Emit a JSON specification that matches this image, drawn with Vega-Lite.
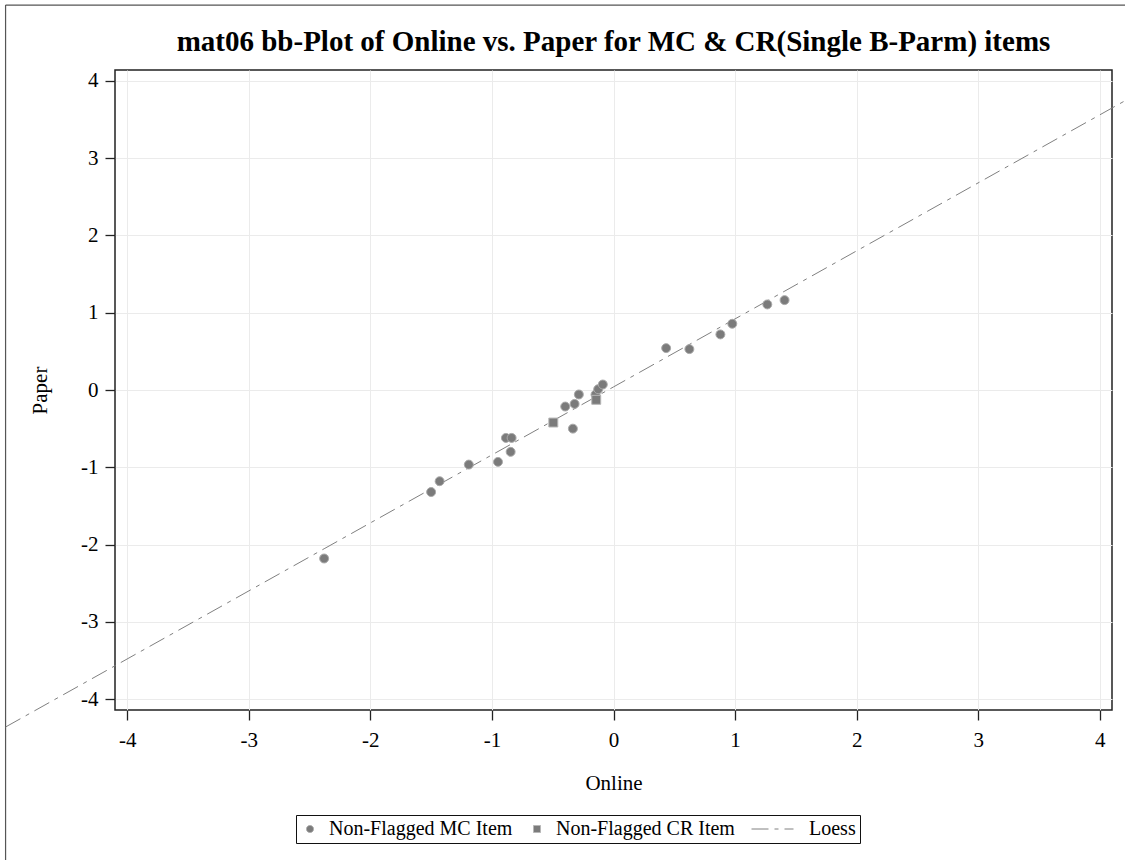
{
  "$schema": "https://vega.github.io/schema/vega-lite/v6.json",
  "autosize": {"type": "none"},
  "width": 997,
  "height": 640,
  "padding": {"left": 115, "top": 70, "right": 13, "bottom": 150},
  "background": "white",
  "title": {
    "text": "mat06 bb-Plot of Online vs. Paper for MC & CR(Single B-Parm) items",
    "font": "Liberation Serif",
    "fontSize": 29,
    "fontWeight": "bold",
    "color": "black",
    "anchor": "middle",
    "frame": "group",
    "baseline": "alphabetic",
    "offset": 0,
    "dy": 76
  },
  "datasets": {
    "items": [
      {"online": -2.38, "paper": -2.18, "series": "Non-Flagged MC Item"},
      {"online": -1.50, "paper": -1.32, "series": "Non-Flagged MC Item"},
      {"online": -1.43, "paper": -1.18, "series": "Non-Flagged MC Item"},
      {"online": -1.19, "paper": -0.965, "series": "Non-Flagged MC Item"},
      {"online": -0.95, "paper": -0.93, "series": "Non-Flagged MC Item"},
      {"online": -0.885, "paper": -0.62, "series": "Non-Flagged MC Item"},
      {"online": -0.838, "paper": -0.62, "series": "Non-Flagged MC Item"},
      {"online": -0.846, "paper": -0.80, "series": "Non-Flagged MC Item"},
      {"online": -0.397, "paper": -0.214, "series": "Non-Flagged MC Item"},
      {"online": -0.334, "paper": -0.50, "series": "Non-Flagged MC Item"},
      {"online": -0.320, "paper": -0.18, "series": "Non-Flagged MC Item"},
      {"online": -0.285, "paper": -0.058, "series": "Non-Flagged MC Item"},
      {"online": -0.148, "paper": -0.06, "series": "Non-Flagged MC Item"},
      {"online": -0.126, "paper": 0.01, "series": "Non-Flagged MC Item"},
      {"online": -0.088, "paper": 0.071, "series": "Non-Flagged MC Item"},
      {"online": 0.433, "paper": 0.542, "series": "Non-Flagged MC Item"},
      {"online": 0.624, "paper": 0.529, "series": "Non-Flagged MC Item"},
      {"online": 0.879, "paper": 0.719, "series": "Non-Flagged MC Item"},
      {"online": 0.977, "paper": 0.857, "series": "Non-Flagged MC Item"},
      {"online": 1.265, "paper": 1.107, "series": "Non-Flagged MC Item"},
      {"online": 1.407, "paper": 1.163, "series": "Non-Flagged MC Item"},
      {"online": -0.495, "paper": -0.421, "series": "Non-Flagged CR Item"},
      {"online": -0.142, "paper": -0.127, "series": "Non-Flagged CR Item"}
    ],
    "loess": [
      {"online": -5.0, "paper": -4.36, "series": "Loess"},
      {"online": -2.38, "paper": -2.054, "series": "Loess"},
      {"online": 0.0, "paper": 0.04, "series": "Loess"},
      {"online": 1.41, "paper": 1.281, "series": "Loess"},
      {"online": 4.35, "paper": 3.868, "series": "Loess"}
    ],
    "frame": [
      {"edge": "left", "online": -5.0, "online2": -5.0, "paper": 4.98, "paper2": -6.2},
      {"edge": "top", "online": -5.0, "online2": 4.4, "paper": 4.98, "paper2": 4.98}
    ]
  },
  "encoding": {
    "x": {
      "field": "online",
      "type": "quantitative",
      "title": "Online",
      "scale": {"domain": [-4.1, 4.1], "nice": false, "zero": false},
      "axis": {"values": [-4, -3, -2, -1, 0, 1, 2, 3, 4], "labelExpr": "'' + datum.value", "labelPadding": 9, "titlePadding": 22}
    },
    "y": {
      "field": "paper",
      "type": "quantitative",
      "title": "Paper",
      "scale": {"domain": [-4.14, 4.14], "nice": false, "zero": false},
      "axis": {"values": [-4, -3, -2, -1, 0, 1, 2, 3, 4], "labelExpr": "'' + datum.value", "labelPadding": 7, "titlePadding": 30}
    }
  },
  "layer": [
    {
      "data": {"name": "frame"},
      "mark": {"type": "rule", "clip": false, "color": "#555555", "strokeWidth": 1.2},
      "encoding": {
        "x2": {"field": "online2"},
        "y2": {"field": "paper2"}
      }
    },
    {
      "data": {"name": "loess"},
      "mark": {"type": "line", "clip": false, "strokeWidth": 1},
      "encoding": {
        "stroke": {
          "field": "series",
          "type": "nominal",
          "scale": {
            "domain": ["Non-Flagged MC Item", "Non-Flagged CR Item", "Loess"],
            "range": ["#a9a9a9", "#b5b5b5", "#808080"]
          },
          "legend": {"title": null}
        },
        "strokeDash": {
          "field": "series",
          "type": "nominal",
          "scale": {
            "domain": ["Non-Flagged MC Item", "Non-Flagged CR Item", "Loess"],
            "range": [[1, 0], [1, 0], [17, 6, 4, 6]]
          },
          "legend": {"title": null}
        }
      }
    },
    {
      "data": {"name": "items"},
      "mark": {"type": "point", "filled": true, "opacity": 1, "size": 80, "strokeWidth": 1},
      "encoding": {
        "shape": {
          "field": "series",
          "type": "nominal",
          "scale": {
            "domain": ["Non-Flagged MC Item", "Non-Flagged CR Item", "Loess"],
            "range": ["circle", "square", "M-11,0H1"]
          },
          "legend": {"title": null}
        },
        "fill": {
          "field": "series",
          "type": "nominal",
          "scale": {
            "domain": ["Non-Flagged MC Item", "Non-Flagged CR Item", "Loess"],
            "range": ["#7b7b7b", "#7b7b7b", "transparent"]
          },
          "legend": {"title": null}
        },
        "stroke": {
          "field": "series",
          "type": "nominal",
          "legend": {"title": null}
        }
      }
    }
  ],
  "config": {
    "font": "Liberation Serif",
    "view": {"stroke": "#222222", "strokeWidth": 1.5},
    "axis": {
      "domain": false,
      "grid": true,
      "gridColor": "#ebebeb",
      "gridWidth": 1,
      "tickColor": "#222222",
      "tickSize": 10,
      "tickWidth": 1.3,
      "labelFont": "Liberation Serif",
      "labelFontSize": 21,
      "labelColor": "black",
      "titleFont": "Liberation Serif",
      "titleFontSize": 21,
      "titleFontWeight": "normal",
      "titleColor": "black"
    },
    "legend": {
      "orient": "none",
      "legendX": 181,
      "legendY": 745,
      "direction": "horizontal",
      "strokeColor": "#111111",
      "padding": 4,
      "labelFont": "Liberation Serif",
      "labelFontSize": 20,
      "labelColor": "black",
      "labelLimit": 0,
      "labelOffset": 9,
      "symbolSize": 49,
      "symbolStrokeWidth": 1,
      "columnPadding": 14
    }
  }
}
